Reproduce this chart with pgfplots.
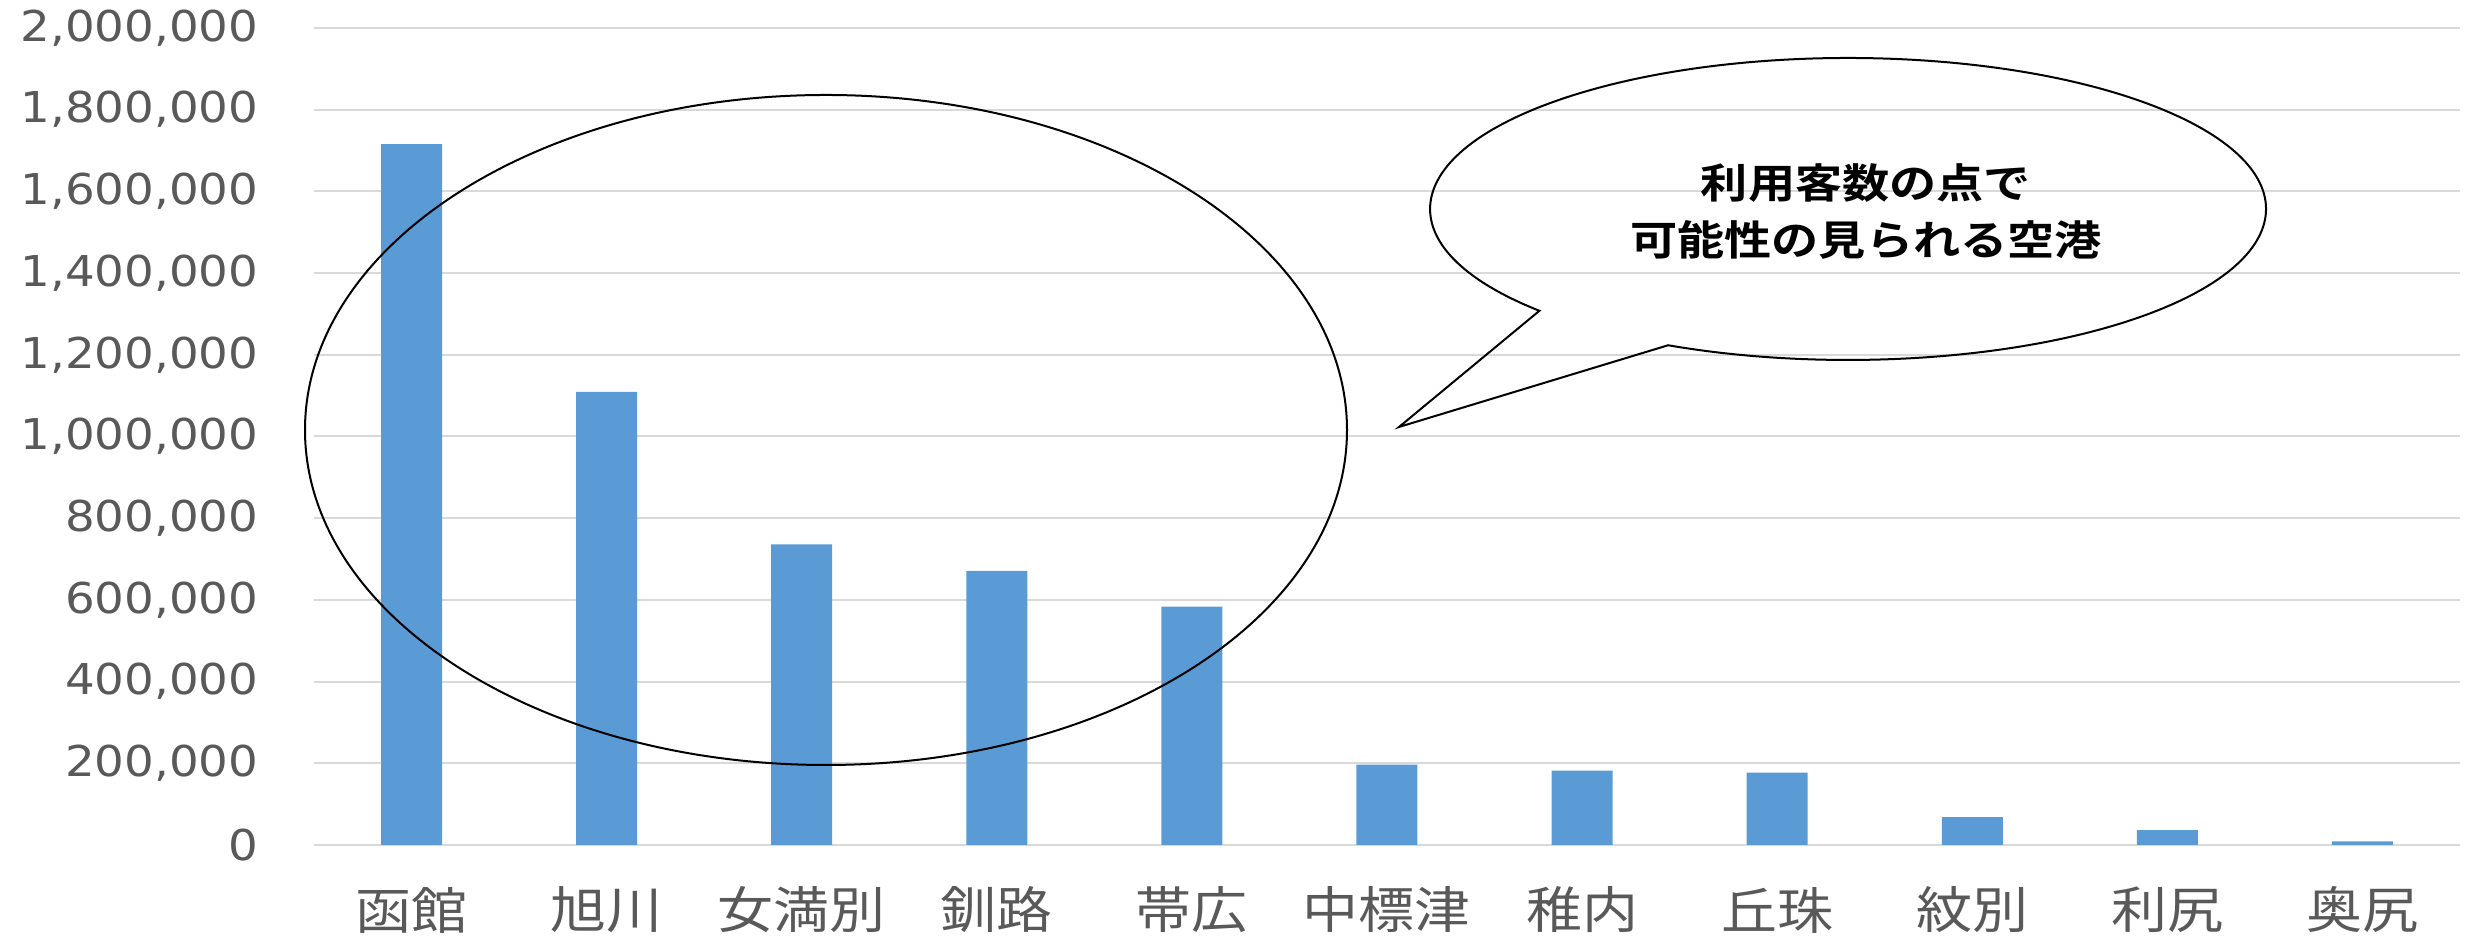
\documentclass[border=0pt]{standalone}
\usepackage{pgfplots}
\pgfplotsset{compat=1.18}
\usepackage{fontspec}
\setmainfont{DejaVu Sans}
\newfontfamily\tickfont[FakeStretch=1.1]{DejaVu Sans}
\newfontfamily\cjk[FakeStretch=1.12]{Noto Sans CJK JP}
\newfontfamily\cjkbold[FakeStretch=1.15]{Noto Sans CJK JP Bold}
\definecolor{barblue}{HTML}{5B9BD5}
\definecolor{gridgray}{HTML}{D9D9D9}
\definecolor{labgray}{HTML}{595959}
\begin{document}
\begin{tikzpicture}
\begin{scope}[x=0.3pt,y=-0.3pt,shift={(-314,-845)}]
\useasboundingbox (0,0) rectangle (2470,937);
\end{scope}
\begin{axis}[
  at={(0,0)}, anchor=south west,
  scale only axis,
  width=643.8pt, height=245.1pt,
  xmin=-0.5, xmax=10.5,
  ymin=0, ymax=2000000,
  ytick={0,200000,...,2000000},
  scaled y ticks=false,
  yticklabel style={/pgf/number format/fixed,/pgf/number format/1000 sep={,},
    /pgf/number format/assume math mode=true,
    font=\tickfont\fontsize{12.75}{14}\selectfont, text=labgray,
    anchor=east, inner sep=0pt, xshift=-16.5pt},
  xtick=data,
  xticklabels={函館,旭川,女満別,釧路,帯広,中標津,稚内,丘珠,紋別,利尻,奥尻},
  xticklabel style={font=\cjk\fontsize{15}{17}\selectfont, text=labgray,
    anchor=center, inner sep=0pt, yshift=-19.5pt},
  major tick length=0pt,
  axis line style={draw=none},
  ymajorgrids,
  grid style={gridgray, line width=0.6pt},
  ybar, bar width=18.3pt,
  clip=false,
]
\addplot[fill=barblue, draw=none] coordinates {
(0,1716000) (1,1109000) (2,736000) (3,670800) (4,583300)
(5,196700) (6,181900) (7,177000) (8,68300) (9,36200) (10,9100)
};
\end{axis}
\begin{scope}[x=0.3pt,y=-0.3pt,shift={(-314,-845)}]
\draw[black, line width=0.6pt] (826,430) ellipse [x radius=521, y radius=335];
\draw[black, line width=0.6pt] (1399,427) -- (1539.4,310.8)
   arc[start angle=137.6, end angle=475.5, x radius=418, y radius=151] -- cycle;
\node[align=center, font=\cjkbold\fontsize{12.3}{17.1}\selectfont, text=black, inner sep=0pt]
   at (1866,212) {利用客数の点で\\可能性の見られる空港};
\end{scope}
\end{tikzpicture}
\end{document}
